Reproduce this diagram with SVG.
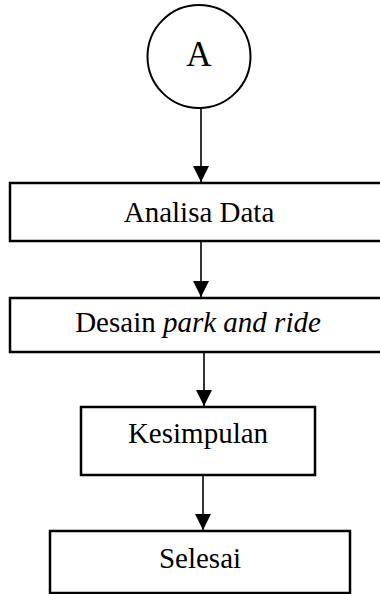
<svg xmlns="http://www.w3.org/2000/svg" width="380" height="594" viewBox="0 0 380 594">
<style>
.box{fill:#fff;stroke:#000;stroke-width:2.5}
.lbl{font-family:"Liberation Serif","Times New Roman",serif;font-size:29px;fill:#000;text-anchor:middle}
.conn{stroke:#000;stroke-width:1.6;fill:none}
</style>
<defs>
<marker id="ah" markerUnits="userSpaceOnUse" markerWidth="16" markerHeight="16" refX="16" refY="8" orient="auto">
<path d="M0,0 L16,8 L0,16 z" fill="#000"/>
</marker>
</defs>
<rect width="380" height="594" fill="#fff"/>
<g id="connectors">
<line class="conn" x1="201" y1="108" x2="201" y2="182" marker-end="url(#ah)"/>
<line class="conn" x1="201" y1="241" x2="201" y2="297" marker-end="url(#ah)"/>
<line class="conn" x1="204" y1="352" x2="204" y2="406" marker-end="url(#ah)"/>
<line class="conn" x1="203" y1="475" x2="203" y2="530" marker-end="url(#ah)"/>
</g>
<g id="node-A">
<circle cx="199" cy="56.5" r="51.5" fill="#fff" stroke="#000" stroke-width="2"/>
<text x="199" y="66" class="lbl" style="font-size:35px">A</text>
</g>
<g id="node-analisa">
<rect class="box" x="10" y="183" width="385" height="58"/>
<text x="199" y="222" class="lbl">Analisa Data</text>
</g>
<g id="node-desain">
<rect class="box" x="10" y="298" width="385" height="54"/>
<text x="198" y="332" class="lbl">Desain <tspan font-style="italic">park and ride</tspan></text>
</g>
<g id="node-kesimpulan">
<rect class="box" x="81" y="407" width="234" height="68"/>
<text x="198" y="443" class="lbl">Kesimpulan</text>
</g>
<g id="node-selesai">
<rect class="box" x="50" y="531" width="300" height="62"/>
<text x="200" y="568" class="lbl">Selesai</text>
</g>
</svg>
